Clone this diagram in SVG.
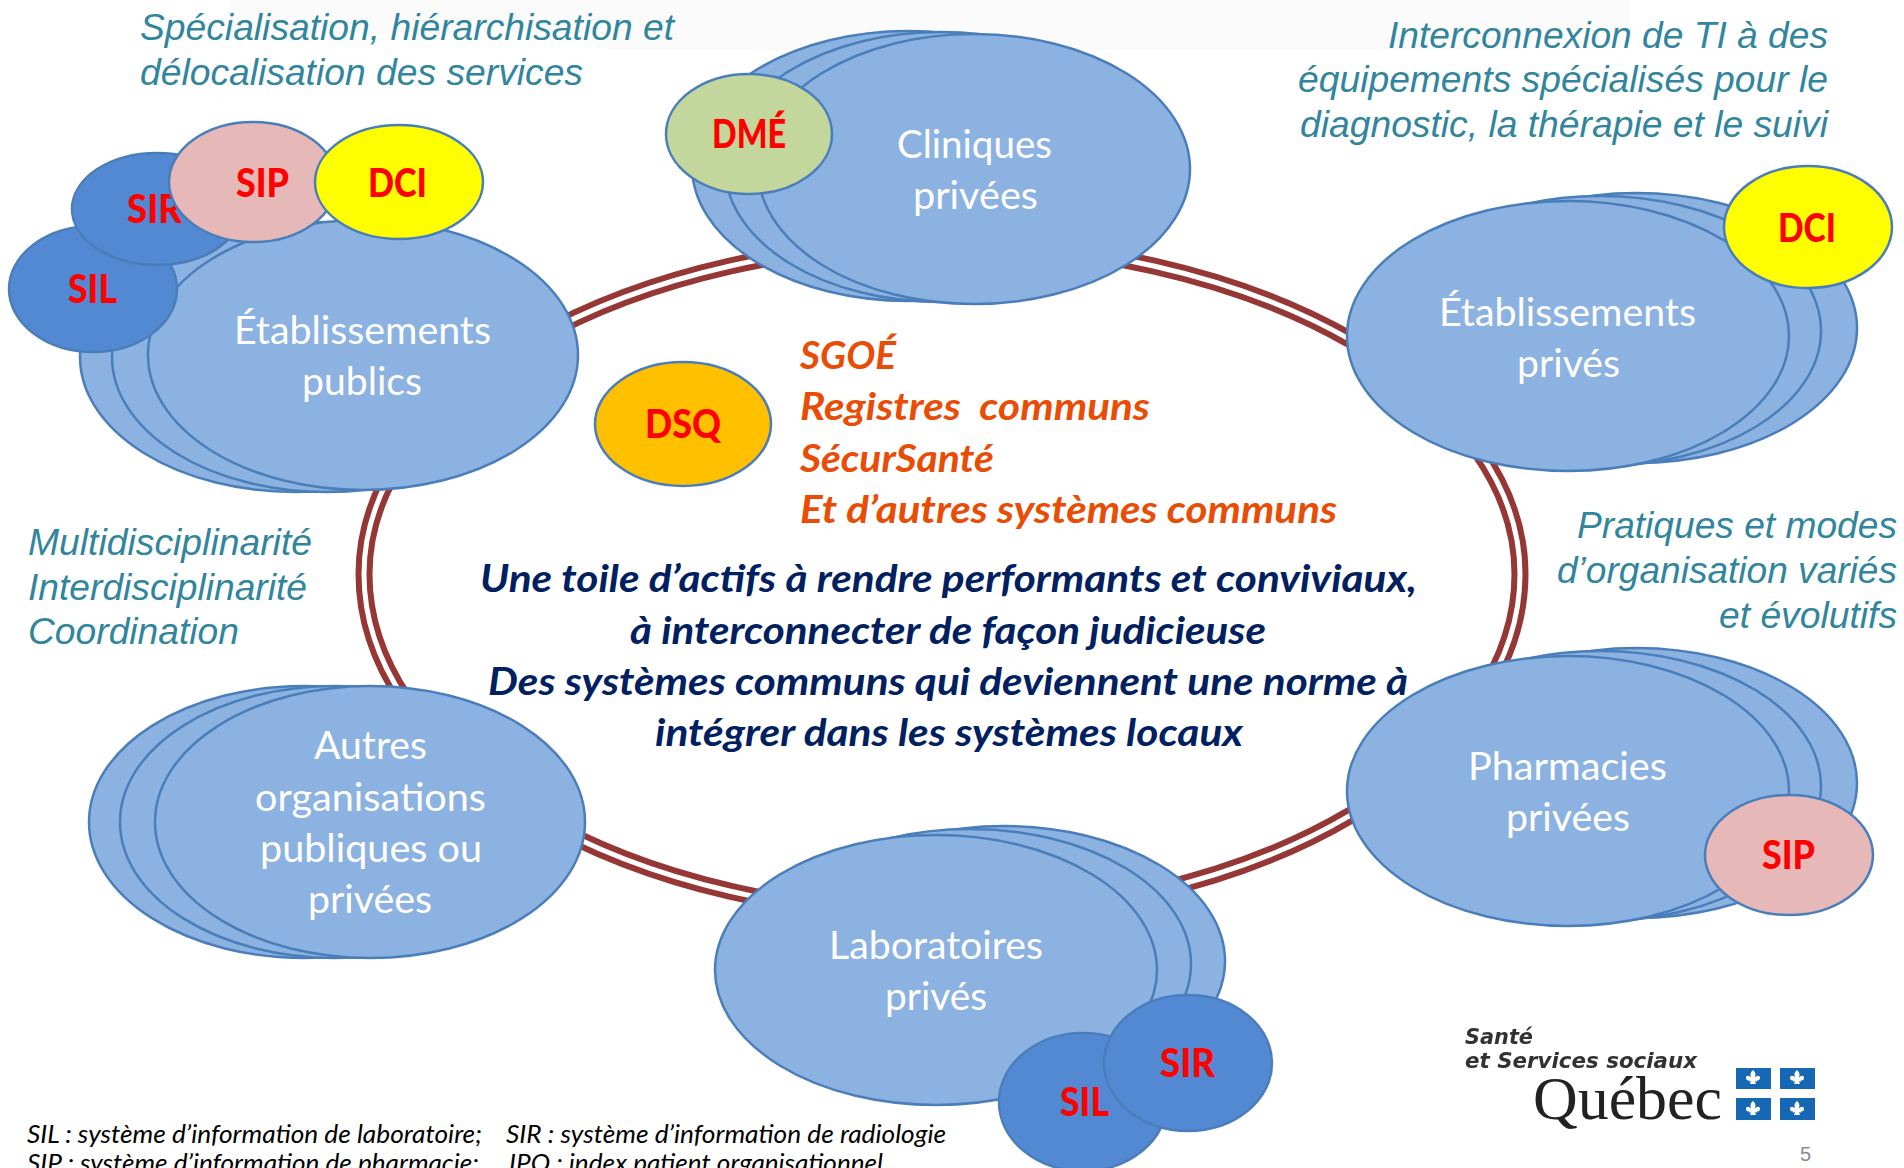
<svg xmlns="http://www.w3.org/2000/svg" width="1904" height="1168" viewBox="0 0 1904 1168">
<style>
text{font-family:Lato,"Liberation Sans",sans-serif}
.o{fill:#8cb2e1;stroke:#4a7ebb;stroke-width:2.5}
.s{fill:#5289d2;stroke:#4a7ebb;stroke-width:2.5}
.e{stroke:#4a7ebb;stroke-width:2.5}
.l{fill:#fff;font-size:39px}
.r{fill:#f00;font-size:39px;font-weight:900}
.t{fill:#31859c;font-family:"Liberation Sans",Arial,sans-serif;font-style:italic;font-size:37px}
.a{fill:#e84c05;font-size:38px;font-weight:700;font-style:italic}
.n{fill:#002060;font-size:38px;font-weight:700;font-style:italic}
.f{fill:#000;font-size:25px;font-style:italic}
.fl{fill:#1668b4}
.fd{fill:#fff}
.ls{font-family:"DejaVu Sans",sans-serif;font-size:22px;font-weight:700;font-style:italic;fill:#333}
.lq{font-family:"Liberation Serif",serif;font-size:62px;fill:#222}
.pg{font-family:"Liberation Sans",sans-serif;font-size:20px;fill:#8a8a8a}
.ring{fill:none;stroke:#953735;stroke-width:17}
.ringi{fill:none;stroke:#fff;stroke-width:5}
</style>
<defs>
<path id="fleur" class="fd" d="M0-8C3-5 3-3 1.500 0C4-3 7-3 7 0C7 2 5 3 4 2C5 4 2 4 1.500 2L3 6H-3L-1.500 2C-2 4-5 4-4 2C-5 3-7 2-7 0C-7-3-4-3-1.500 0C-3-3-3-5 0-8Z"/>
<path id="ringp" d="M364 574A578 331 0 0 1 1520 574A578 341 0 0 1 364 574Z"/>
<filter id="soft" x="-5%" y="-5%" width="110%" height="110%"><feGaussianBlur stdDeviation="0.6"/></filter>
</defs>
<rect x="230" y="0" width="1400" height="33" fill="#fbfbfb"/>
<rect x="607" y="0" width="913" height="50" fill="#fbfbfb"/>
<g id="connectors">
<use href="#ringp" class="ring"/>
<use href="#ringp" class="ringi"/>
</g>
<g id="node-publics">
<ellipse class="o" cx="295" cy="357" rx="215" ry="135"/><ellipse class="o" cx="327" cy="357" rx="215" ry="135"/><ellipse class="o" cx="363" cy="355" rx="215" ry="135"/>
<text class="l" x="234" y="344" textLength="257" lengthAdjust="spacingAndGlyphs">Établissements</text>
<text class="l" x="302" y="395" textLength="120" lengthAdjust="spacingAndGlyphs">publics</text>
</g>
<g id="node-sil-publics"><ellipse class="s" cx="93" cy="289" rx="84" ry="63"/><text class="r" x="68" y="303" textLength="49" lengthAdjust="spacingAndGlyphs">SIL</text></g>
<g id="node-sir-publics"><ellipse class="s" cx="157" cy="209" rx="85" ry="56"/><text class="r" x="127" y="223" textLength="55" lengthAdjust="spacingAndGlyphs">SIR</text></g>
<g id="node-sip-publics"><ellipse class="e" cx="253" cy="182" rx="84" ry="60" fill="#e6b9b8"/><text class="r" x="236" y="197" textLength="53" lengthAdjust="spacingAndGlyphs">SIP</text></g>
<g id="node-dci-publics"><ellipse class="e" cx="399" cy="182" rx="84" ry="57" fill="#ff0"/><text class="r" x="368" y="197" textLength="59" lengthAdjust="spacingAndGlyphs">DCI</text></g>
<g id="node-cliniques">
<ellipse class="o" cx="908" cy="166" rx="216" ry="135"/><ellipse class="o" cx="941" cy="167" rx="216" ry="135"/><ellipse class="o" cx="974" cy="169" rx="216" ry="135"/>
<text class="l" x="897" y="158" textLength="155" lengthAdjust="spacingAndGlyphs">Cliniques</text>
<text class="l" x="913" y="209" textLength="125" lengthAdjust="spacingAndGlyphs">privées</text>
</g>
<g id="node-dme"><ellipse class="e" cx="749" cy="134" rx="83" ry="60" fill="#c3d69b"/><text class="r" x="712" y="148" textLength="74" lengthAdjust="spacingAndGlyphs">DMÉ</text></g>
<g id="node-prives">
<ellipse class="o" cx="1636" cy="328" rx="221" ry="135"/><ellipse class="o" cx="1600" cy="331" rx="221" ry="135"/><ellipse class="o" cx="1568" cy="336" rx="221" ry="135"/>
<text class="l" x="1439" y="326" textLength="257" lengthAdjust="spacingAndGlyphs">Établissements</text>
<text class="l" x="1517" y="377" textLength="103" lengthAdjust="spacingAndGlyphs">privés</text>
</g>
<g id="node-dci-prives"><ellipse class="e" cx="1808" cy="227" rx="84" ry="61" fill="#ff0"/><text class="r" x="1778" y="242" textLength="58" lengthAdjust="spacingAndGlyphs">DCI</text></g>
<g id="node-pharmacies">
<ellipse class="o" cx="1636" cy="783" rx="221" ry="135"/><ellipse class="o" cx="1600" cy="786" rx="221" ry="135"/><ellipse class="o" cx="1568" cy="791" rx="221" ry="135"/>
<text class="l" x="1468" y="780" textLength="199" lengthAdjust="spacingAndGlyphs">Pharmacies</text>
<text class="l" x="1506" y="831" textLength="124" lengthAdjust="spacingAndGlyphs">privées</text>
</g>
<g id="node-sip-pharma"><ellipse class="e" cx="1789" cy="855" rx="84" ry="60" fill="#e6b9b8"/><text class="r" x="1762" y="869" textLength="53" lengthAdjust="spacingAndGlyphs">SIP</text></g>
<g id="node-labos">
<ellipse class="o" cx="1004" cy="961" rx="221" ry="135"/><ellipse class="o" cx="970" cy="964" rx="221" ry="135"/><ellipse class="o" cx="936" cy="970" rx="221" ry="135"/>
<text class="l" x="829" y="959" textLength="214" lengthAdjust="spacingAndGlyphs">Laboratoires</text>
<text class="l" x="885" y="1010" textLength="102" lengthAdjust="spacingAndGlyphs">privés</text>
</g>
<g id="node-sil-labo"><ellipse class="s" cx="1083" cy="1102" rx="84" ry="69"/><text class="r" x="1060" y="1116" textLength="49" lengthAdjust="spacingAndGlyphs">SIL</text></g>
<g id="node-sir-labo"><ellipse class="s" cx="1188" cy="1063" rx="84" ry="68"/><text class="r" x="1160" y="1077" textLength="55" lengthAdjust="spacingAndGlyphs">SIR</text></g>
<g id="node-autres">
<ellipse class="o" cx="304" cy="822" rx="215" ry="136"/><ellipse class="o" cx="335" cy="822" rx="215" ry="136"/><ellipse class="o" cx="370" cy="822" rx="215" ry="136"/>
<text class="l" x="314" y="759" textLength="113" lengthAdjust="spacingAndGlyphs">Autres</text>
<text class="l" x="255" y="811" textLength="231" lengthAdjust="spacingAndGlyphs">organisations</text>
<text class="l" x="260" y="862" textLength="222" lengthAdjust="spacingAndGlyphs">publiques ou</text>
<text class="l" x="308" y="913" textLength="124" lengthAdjust="spacingAndGlyphs">privées</text>
</g>
<g id="node-dsq"><ellipse class="e" cx="683" cy="424" rx="88" ry="62" fill="#ffc000"/><text class="r" x="645" y="438" textLength="76" lengthAdjust="spacingAndGlyphs">DSQ</text></g>
<g id="captions">
<text class="t" x="140" y="40" textLength="534" lengthAdjust="spacingAndGlyphs">Spécialisation, hiérarchisation et</text>
<text class="t" x="140" y="85" textLength="443" lengthAdjust="spacingAndGlyphs">délocalisation des services</text>
<text class="t" x="1388" y="48" textLength="440" lengthAdjust="spacingAndGlyphs">Interconnexion de TI à des</text>
<text class="t" x="1298" y="92" textLength="530" lengthAdjust="spacingAndGlyphs">équipements spécialisés pour le</text>
<text class="t" x="1300" y="137" textLength="528" lengthAdjust="spacingAndGlyphs">diagnostic, la thérapie et le suivi</text>
<text class="t" x="28" y="555" textLength="284" lengthAdjust="spacingAndGlyphs">Multidisciplinarité</text>
<text class="t" x="28" y="600" textLength="279" lengthAdjust="spacingAndGlyphs">Interdisciplinarité</text>
<text class="t" x="28" y="644" textLength="211" lengthAdjust="spacingAndGlyphs">Coordination</text>
<text class="t" x="1577" y="538" textLength="320" lengthAdjust="spacingAndGlyphs">Pratiques et modes</text>
<text class="t" x="1557" y="583" textLength="340" lengthAdjust="spacingAndGlyphs">d’organisation variés</text>
<text class="t" x="1719" y="628" textLength="178" lengthAdjust="spacingAndGlyphs">et évolutifs</text>
</g>
<g id="centre">
<text class="a" x="800" y="369" textLength="96" lengthAdjust="spacingAndGlyphs">SGOÉ</text>
<text class="a" x="800" y="420" textLength="350" lengthAdjust="spacingAndGlyphs" xml:space="preserve">Registres  communs</text>
<text class="a" x="800" y="472" textLength="194" lengthAdjust="spacingAndGlyphs">SécurSanté</text>
<text class="a" x="800" y="523" textLength="537" lengthAdjust="spacingAndGlyphs">Et d’autres systèmes communs</text>
<text class="n" x="480" y="592" textLength="937" lengthAdjust="spacingAndGlyphs">Une toile d’actifs à rendre performants et conviviaux,</text>
<text class="n" x="630" y="644" textLength="636" lengthAdjust="spacingAndGlyphs">à interconnecter de façon judicieuse</text>
<text class="n" x="488" y="695" textLength="920" lengthAdjust="spacingAndGlyphs">Des systèmes communs qui deviennent une norme à</text>
<text class="n" x="655" y="746" textLength="588" lengthAdjust="spacingAndGlyphs">intégrer dans les systèmes locaux</text>
</g>
<g id="notes">
<text class="f" x="27" y="1143" textLength="455" lengthAdjust="spacingAndGlyphs">SIL : système d’information de laboratoire;</text>
<text class="f" x="506" y="1143" textLength="440" lengthAdjust="spacingAndGlyphs">SIR : système d’information de radiologie</text>
<text class="f" x="27" y="1172" textLength="452" lengthAdjust="spacingAndGlyphs">SIP : système d’information de pharmacie;</text>
<text class="f" x="509" y="1172" textLength="374" lengthAdjust="spacingAndGlyphs">IPO : index patient organisationnel</text>
</g>
<g id="logo" filter="url(#soft)">
<text class="ls" x="1465" y="1044" textLength="68" lengthAdjust="spacingAndGlyphs">Santé</text>
<text class="ls" x="1465" y="1068" textLength="232" lengthAdjust="spacingAndGlyphs">et Services sociaux</text>
<text class="lq" x="1533" y="1119" textLength="189" lengthAdjust="spacingAndGlyphs">Québec</text>
<rect class="fl" x="1736" y="1068" width="35" height="21"/><rect class="fl" x="1780" y="1068" width="35" height="21"/><rect class="fl" x="1736" y="1098" width="35" height="22"/><rect class="fl" x="1780" y="1098" width="35" height="22"/>
<use href="#fleur" x="1753" y="1078"/><use href="#fleur" x="1797" y="1078"/><use href="#fleur" x="1753" y="1109"/><use href="#fleur" x="1797" y="1109"/>
</g>
<text class="pg" x="1800" y="1161">5</text>
</svg>
